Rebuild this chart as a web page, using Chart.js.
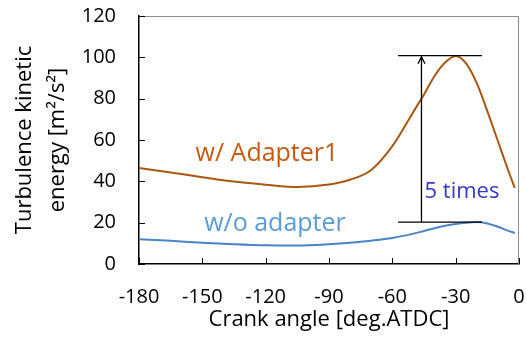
<!DOCTYPE html>
<html lang="en">
  <head>
    <meta charset="UTF-8" />
    <title>Turbulence kinetic energy</title>
    <script src="https://cdn.jsdelivr.net/npm/chart.js"></script>
    <style>
      html, body {
        margin: 0;
        padding: 0;
        background: #fff;
      }
      .container {
        width: 526px;
        height: 338px;
      }
    </style>
  </head>
  <body>
    <div class="container">
      <canvas id="grafico" width="526" height="338"></canvas>
    </div>

    <script>
      // crank angle [deg ATDC]
      const angulos = [-180, -165, -150, -135, -120, -105, -90, -80, -70, -60, -50, -45, -40, -35, -30, -25, -20, -15, -10, -5, -2];
      // turbulence kinetic energy [m2/s2]
      const comAdaptador = [46.5, 44.3, 42, 39.9, 38.4, 37.3, 38.5, 40.8, 45.5, 57, 73.7, 82, 91, 97.5, 100.7, 97, 87.5, 74, 59.5, 45, 36.8];
      const semAdaptador = [12, 11.2, 10.3, 9.6, 9.1, 9.0, 9.6, 10.3, 11.3, 12.6, 14.7, 16, 17.3, 18.5, 19.4, 20, 20.3, 19.6, 18, 16, 15];
      const ticksX = [-180, -150, -120, -90, -60, -30, 0];
      const ticksY = [0, 20, 40, 60, 80, 100, 120];

      // peak levels and where the "5 times" bracket sits
      const picoCom = 100.8;
      const picoSem = 20.3;
      const faixa = [-57.3, -17.5];
      const setaX = -46.2;

      const FONTE = "'Open Sans', sans-serif";

      const anotacoes = {
        id: "anotacoes",
        afterDatasetsDraw(chart) {
          const { ctx, chartArea: a, scales } = chart;
          const x = scales.x, y = scales.y;
          ctx.save();

          // box: grey top/right
          ctx.strokeStyle = "#8c8c8c";
          ctx.lineWidth = 1;
          ctx.beginPath();
          ctx.moveTo(a.left, a.top + 0.5);
          ctx.lineTo(a.right - 0.5, a.top + 0.5);
          ctx.lineTo(a.right - 0.5, a.bottom);
          ctx.stroke();

          // inner tick marks
          ctx.strokeStyle = "#000";
          ctx.lineWidth = 1;
          ctx.beginPath();
          ticksX.forEach((v) => {
            const px = Math.round(x.getPixelForValue(v)) + 0.5;
            ctx.moveTo(px, a.bottom);
            ctx.lineTo(px, a.bottom - 6);
          });
          ticksY.forEach((v) => {
            const py = Math.round(y.getPixelForValue(v)) + 0.5;
            ctx.moveTo(a.left, py);
            ctx.lineTo(a.left + 6, py);
          });
          ctx.stroke();

          // bracket lines and arrow
          const x0 = x.getPixelForValue(faixa[0]);
          const x1 = x.getPixelForValue(faixa[1]);
          const yTop = y.getPixelForValue(picoCom);
          const yBot = y.getPixelForValue(picoSem);
          const xa = x.getPixelForValue(setaX);
          ctx.lineWidth = 1.3;
          ctx.beginPath();
          ctx.moveTo(x0, yTop);
          ctx.lineTo(x1, yTop);
          ctx.moveTo(x0, yBot);
          ctx.lineTo(x1, yBot);
          ctx.moveTo(xa, yBot);
          ctx.lineTo(xa, yTop);
          ctx.moveTo(xa - 3.5, yTop + 8);
          ctx.lineTo(xa, yTop + 1);
          ctx.lineTo(xa + 3.5, yTop + 8);
          ctx.stroke();

          // series labels
          ctx.textAlign = "center";
          ctx.textBaseline = "middle";
          ctx.font = "25px " + FONTE;
          ctx.fillStyle = "#C55A11";
          ctx.fillText("w/ Adapter1", x.getPixelForValue(-119.4), y.getPixelForValue(53.5));
          ctx.fillStyle = "#5B9BD5";
          ctx.fillText("w/o adapter", x.getPixelForValue(-115.6), y.getPixelForValue(19.2));
          ctx.font = "22px " + FONTE;
          ctx.fillStyle = "#3636C8";
          ctx.fillText("5 times", x.getPixelForValue(-27), y.getPixelForValue(35));
          ctx.restore();
        },
      };

      const ctx = document.getElementById("grafico").getContext("2d");
      new Chart(ctx, {
        type: "line",
        data: {
          datasets: [
            {
              label: "w/ Adapter1",
              data: angulos.map((a, i) => ({ x: a, y: comAdaptador[i] })),
              borderColor: "#A9570F",
              borderWidth: 2,
              pointRadius: 0,
              cubicInterpolationMode: "monotone",
            },
            {
              label: "w/o adapter",
              data: angulos.map((a, i) => ({ x: a, y: semAdaptador[i] })),
              borderColor: "#4A84C4",
              borderWidth: 2,
              pointRadius: 0,
              cubicInterpolationMode: "monotone",
            },
          ],
        },
        options: {
          responsive: false,
          animation: false,
          layout: { padding: { left: 0, right: 7, top: 16, bottom: 0 } },
          plugins: {
            legend: { display: false },
            tooltip: { enabled: false },
          },
          scales: {
            x: {
              type: "linear",
              min: -180,
              max: 0,
              afterBuildTicks: (s) => { s.ticks = ticksX.map((v) => ({ value: v })); },
              afterFit: (s) => {
                s.height = 74;
                s.paddingLeft = 0;
                s.paddingRight = 0;
              },
              grid: { display: false, drawTicks: false },
              border: { display: true, color: "#000", width: 1.5 },
              ticks: {
                color: "#000",
                padding: 21,
                maxRotation: 0,
                font: { family: FONTE, size: 20 },
              },
              title: {
                display: true,
                text: "Crank angle [deg.ATDC]",
                color: "#000",
                font: { family: FONTE, size: 22 },
                padding: { top: 0, bottom: 5 },
              },
            },
            y: {
              min: 0,
              max: 120,
              afterBuildTicks: (s) => { s.ticks = ticksY.map((v) => ({ value: v })); },
              afterFit: (s) => {
                s.width = 139;
                s.paddingTop = 0;
                s.paddingBottom = 0;
              },
              grid: { display: false, drawTicks: false },
              border: { display: true, color: "#000", width: 1.5 },
              ticks: {
                color: "#000",
                padding: 23,
                font: { family: FONTE, size: 20 },
              },
              title: {
                display: true,
                text: ["Turbulence kinetic", "energy [m\u00b2/s\u00b2]"],
                color: "#000",
                font: { family: FONTE, size: 22, lineHeight: "33px" },
                padding: { top: 8, bottom: 0 },
              },
            },
          },
        },
        plugins: [anotacoes],
      });
    </script>
  </body>
</html>
